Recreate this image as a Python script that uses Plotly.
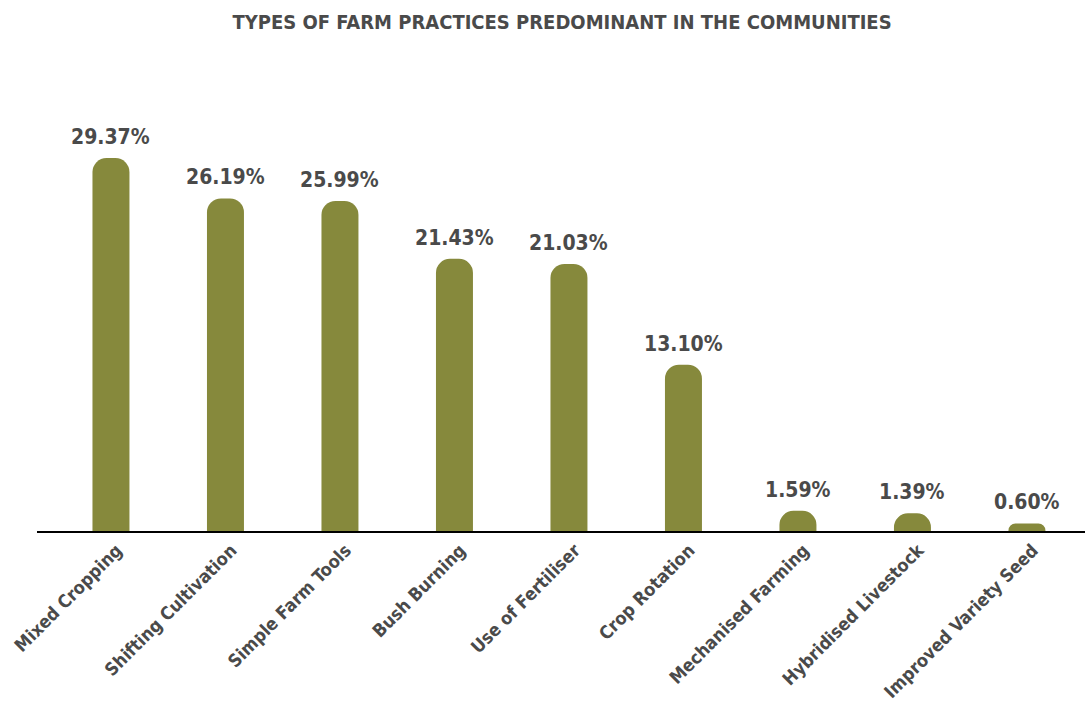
import plotly.graph_objects as go

# Share of respondents reporting each farm practice (%)
practices = [
    "Mixed Cropping",
    "Shifting Cultivation",
    "Simple Farm Tools",
    "Bush Burning",
    "Use of Fertiliser",
    "Crop Rotation",
    "Mechanised Farming",
    "Hybridised Livestock",
    "Improved Variety Seed",
]
shares = [29.37, 26.19, 25.99, 21.43, 21.03, 13.10, 1.59, 1.39, 0.60]
share_labels = [f"{v:.2f}%" for v in shares]

BAR_COLOR = "#86893C"
TEXT_COLOR = "#4A4A4A"
FONT = "DejaVu Sans Condensed, sans-serif"

fig = go.Figure(
    go.Bar(
        x=practices,
        y=shares,
        marker=dict(color=BAR_COLOR, line=dict(width=0), cornerradius=14),
        hoverinfo="skip",
    )
)

# value labels above each bar
for name, v, lab in zip(practices, shares, share_labels):
    fig.add_annotation(
        x=name, y=v, text=f"<b>{lab}</b>", showarrow=False,
        yanchor="bottom", yshift=7,
        font=dict(family=FONT, size=21, color=TEXT_COLOR),
    )

fig.update_layout(
    width=1085,
    height=703,
    margin=dict(l=37, r=0, t=60, b=172, autoexpand=False),
    paper_bgcolor="white",
    plot_bgcolor="white",
    bargap=0.677,
    showlegend=False,
    title=dict(
        text="<b>TYPES OF FARM PRACTICES PREDOMINANT IN THE COMMUNITIES</b>",
        x=0.518, xanchor="center", y=0.968, yanchor="middle",
        font=dict(family=FONT, size=20, color=TEXT_COLOR),
    ),
    xaxis=dict(
        range=[-0.646, 8.507],
        automargin=False,
        showline=True, linecolor="black", linewidth=1.5,
        showgrid=False, zeroline=False, ticks="",
        tickangle=-45,
        ticklabelshift=6,
        ticklabelstandoff=0,
        tickfont=dict(family=FONT, size=18, color=TEXT_COLOR, weight="bold"),
    ),
    yaxis=dict(
        range=[0, 37.09],
        visible=False, showgrid=False, zeroline=False,
        automargin=False,
    ),
)

fig.write_html("out.html")
